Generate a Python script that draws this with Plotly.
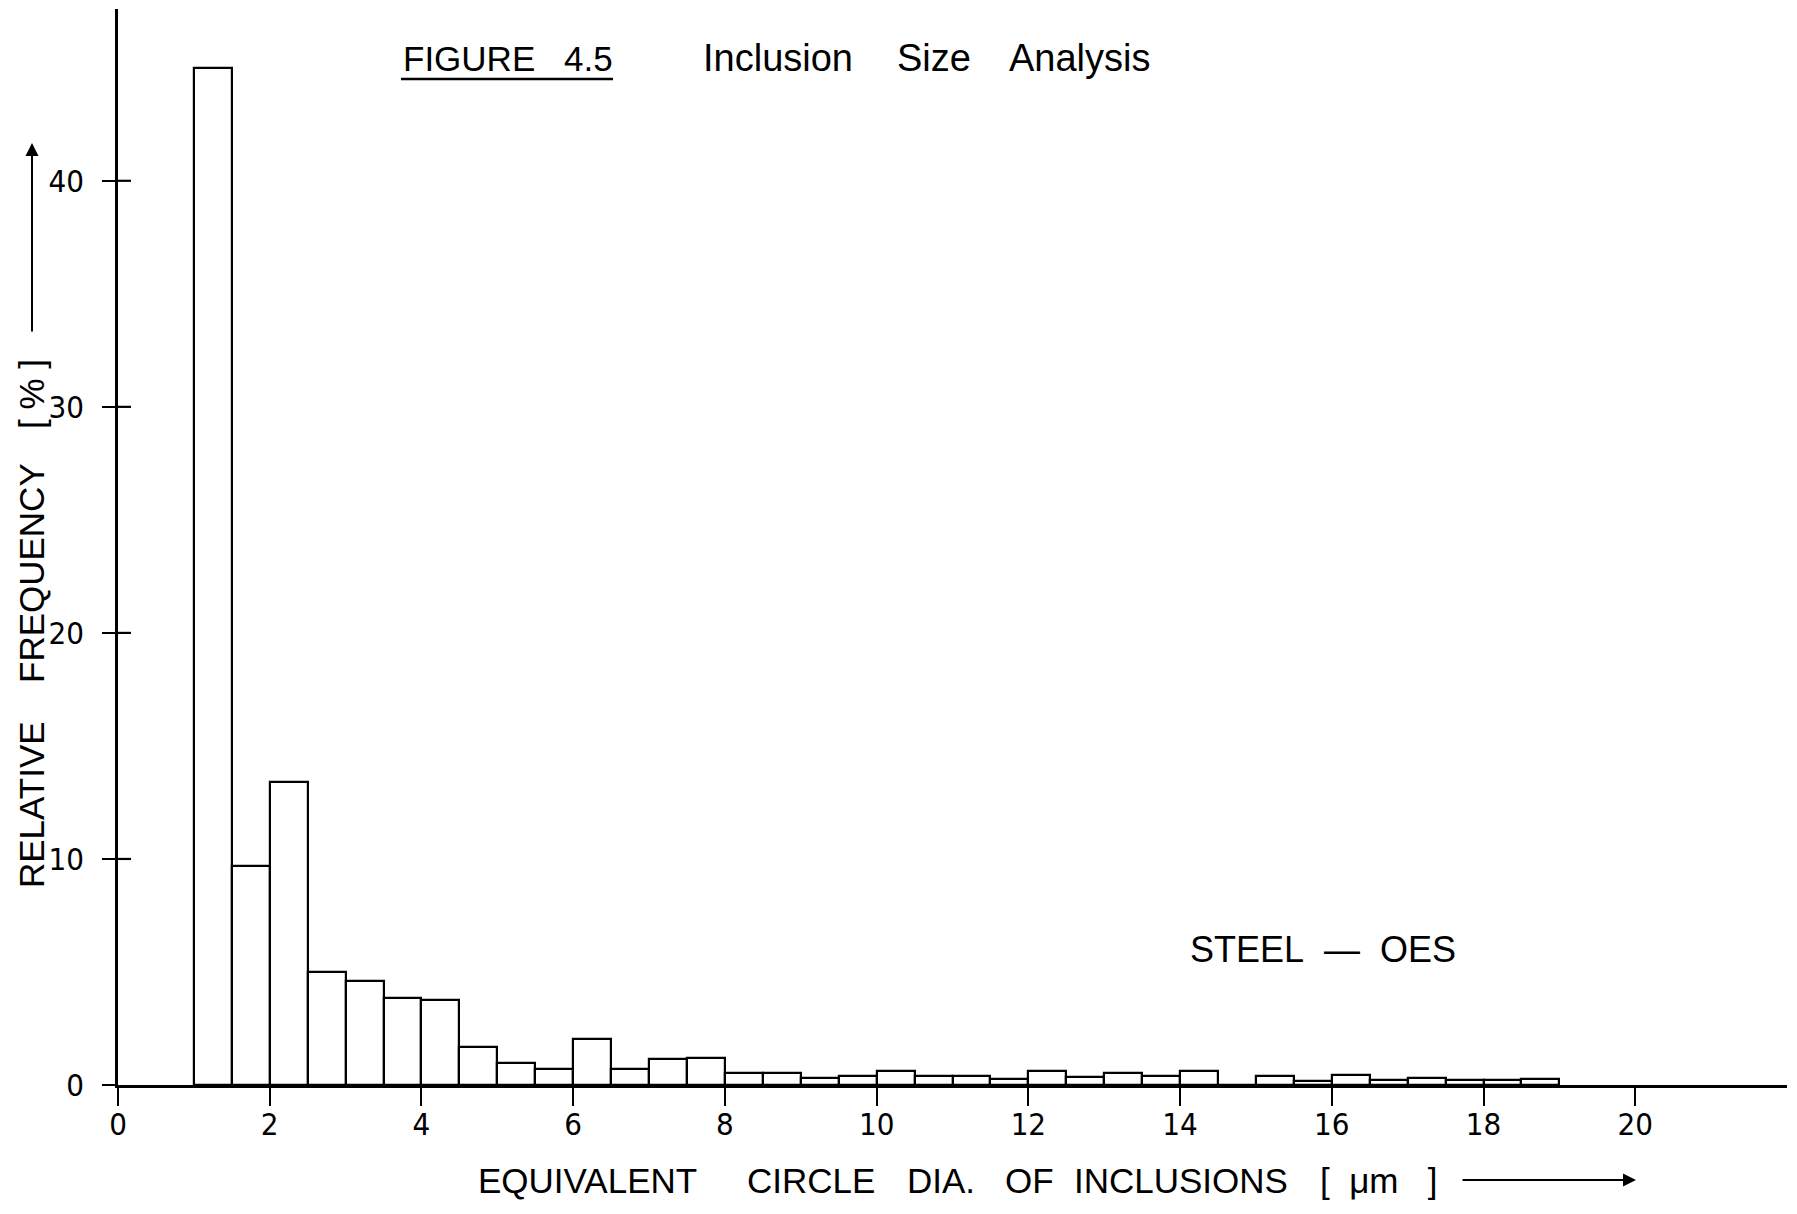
import plotly.graph_objects as go

# ---- data ----
bin_left = [1.0, 1.5, 2.0, 2.5, 3.0, 3.5, 4.0, 4.5, 5.0, 5.5, 6.0, 6.5, 7.0, 7.5,
            8.0, 8.5, 9.0, 9.5, 10.0, 10.5, 11.0, 11.5, 12.0, 12.5, 13.0, 13.5,
            14.0, 14.5, 15.0, 15.5, 16.0, 16.5, 17.0, 17.5, 18.0, 18.5]
rel_freq = [45.0, 9.7, 13.4, 5.0, 4.6, 3.85, 3.75, 1.67, 0.96, 0.7, 2.02, 0.7, 1.15, 1.2,
            0.53, 0.53, 0.3, 0.38, 0.6, 0.38, 0.38, 0.28, 0.62, 0.36, 0.52, 0.38,
            0.64, 0.0, 0.4, 0.17, 0.44, 0.2, 0.3, 0.22, 0.22, 0.25]
bin_width = 0.5
x_ticks = [0, 2, 4, 6, 8, 10, 12, 14, 16, 18, 20]
y_ticks = [0, 10, 20, 30, 40]

title_words = ["FIGURE", "4.5", "Inclusion", "Size", "Analysis"]
xtitle_words = ["EQUIVALENT", "CIRCLE", "DIA.", "OF", "INCLUSIONS",
                "[\u00a0\u00a0μm\u00a0\u00a0\u00a0]"]
ytitle_words = ["RELATIVE", "FREQUENCY", "[\u00a0%\u00a0]"]
label_text = "STEEL\u00a0\u00a0—\u00a0\u00a0OES"

FONT = "Liberation Sans, Arial, sans-serif"
NARROW = "Liberation Sans Narrow, DejaVu Sans Condensed, Liberation Sans, sans-serif"
W, H = 1797, 1214
ML, MR, MT, MB = 118, 10, 9, 129
PW, PH = W - ML - MR, H - MT - MB


def px(xp):
    return (xp - ML) / PW


def py(yp):
    return (H - MB - yp) / PH


fig = go.Figure()
fig.add_trace(go.Bar(
    x=bin_left, y=rel_freq, width=bin_width, offset=0,
    marker=dict(color="white", line=dict(color="black", width=2.2)),
    showlegend=False, hoverinfo="x+y",
))

fig.update_layout(
    width=W, height=H,
    margin=dict(l=ML, r=MR, t=MT, b=MB),
    paper_bgcolor="white", plot_bgcolor="white",
    font=dict(family=FONT, color="black", size=34),
    bargap=0,
    xaxis=dict(range=[0, 22], tickvals=x_ticks, ticks="outside", ticklen=18,
               tickwidth=2.2, tickcolor="black", showline=True, linecolor="black",
               linewidth=2.6, showgrid=False, zeroline=False,
               tickfont=dict(size=31, family=NARROW), ticklabelstandoff=-8),
    yaxis=dict(range=[0, 47.6], tickvals=y_ticks, ticks="outside", ticklen=13,
               tickwidth=2.2, tickcolor="black", showline=True, linecolor="black",
               linewidth=2.6, showgrid=False, zeroline=False,
               tickfont=dict(size=31, family=NARROW), ticklabelstandoff=12),
)

# y ticks cross the axis: add the inner half of each tick
for v in y_ticks[1:]:
    fig.add_shape(type="line", xref="x", yref="y", xsizemode="pixel", xanchor=0,
                  x0=0, x1=13, y0=v, y1=v, line=dict(color="black", width=2.2))

ann = []
# title words
title_x = [401, 562, 701, 895, 1007]
title_sz = [35, 35, 38, 38, 38]
for w, xl, s in zip(title_words, title_x, title_sz):
    ann.append(dict(text=w, x=px(xl), y=py(58), xref="paper", yref="paper",
                    xanchor="left", yanchor="middle", showarrow=False,
                    font=dict(size=s, family=FONT)))
# underline of "FIGURE 4.5"
fig.add_shape(type="line", xref="paper", yref="paper",
              x0=px(401), x1=px(613), y0=py(79), y1=py(79),
              line=dict(color="black", width=2.5))

# x title words
xt_x = [476, 745, 905, 1003, 1072, 1318]
for w, xl in zip(xtitle_words, xt_x):
    ann.append(dict(text=w, x=px(xl), y=py(1180), xref="paper", yref="paper",
                    xanchor="left", yanchor="middle", showarrow=False,
                    font=dict(size=35, family=FONT)))
# x title arrow
ann.append(dict(text="", x=px(1636), y=py(1180), xref="paper", yref="paper",
                showarrow=True, ax=-175, ay=0, arrowhead=2, arrowsize=1.3,
                arrowwidth=2, arrowcolor="black"))

# y title words (rotated)
yt_y = [805, 573, 394]
for w, yc in zip(ytitle_words, yt_y):
    ann.append(dict(text=w, x=px(31), y=py(yc), xref="paper", yref="paper",
                    xanchor="center", yanchor="middle", textangle=-90,
                    showarrow=False, font=dict(size=35, family=FONT)))
# y title arrow
ann.append(dict(text="", x=px(32), y=py(143), xref="paper", yref="paper",
                showarrow=True, ax=0, ay=190, arrowhead=2, arrowsize=1.3,
                arrowwidth=2, arrowcolor="black"))

# in-plot label
ann.append(dict(text=label_text, x=14.1, y=6.0, xref="x", yref="y",
                xanchor="left", yanchor="middle", showarrow=False,
                font=dict(size=36, family=FONT)))

fig.update_layout(annotations=ann)
fig.write_html("out.html")
